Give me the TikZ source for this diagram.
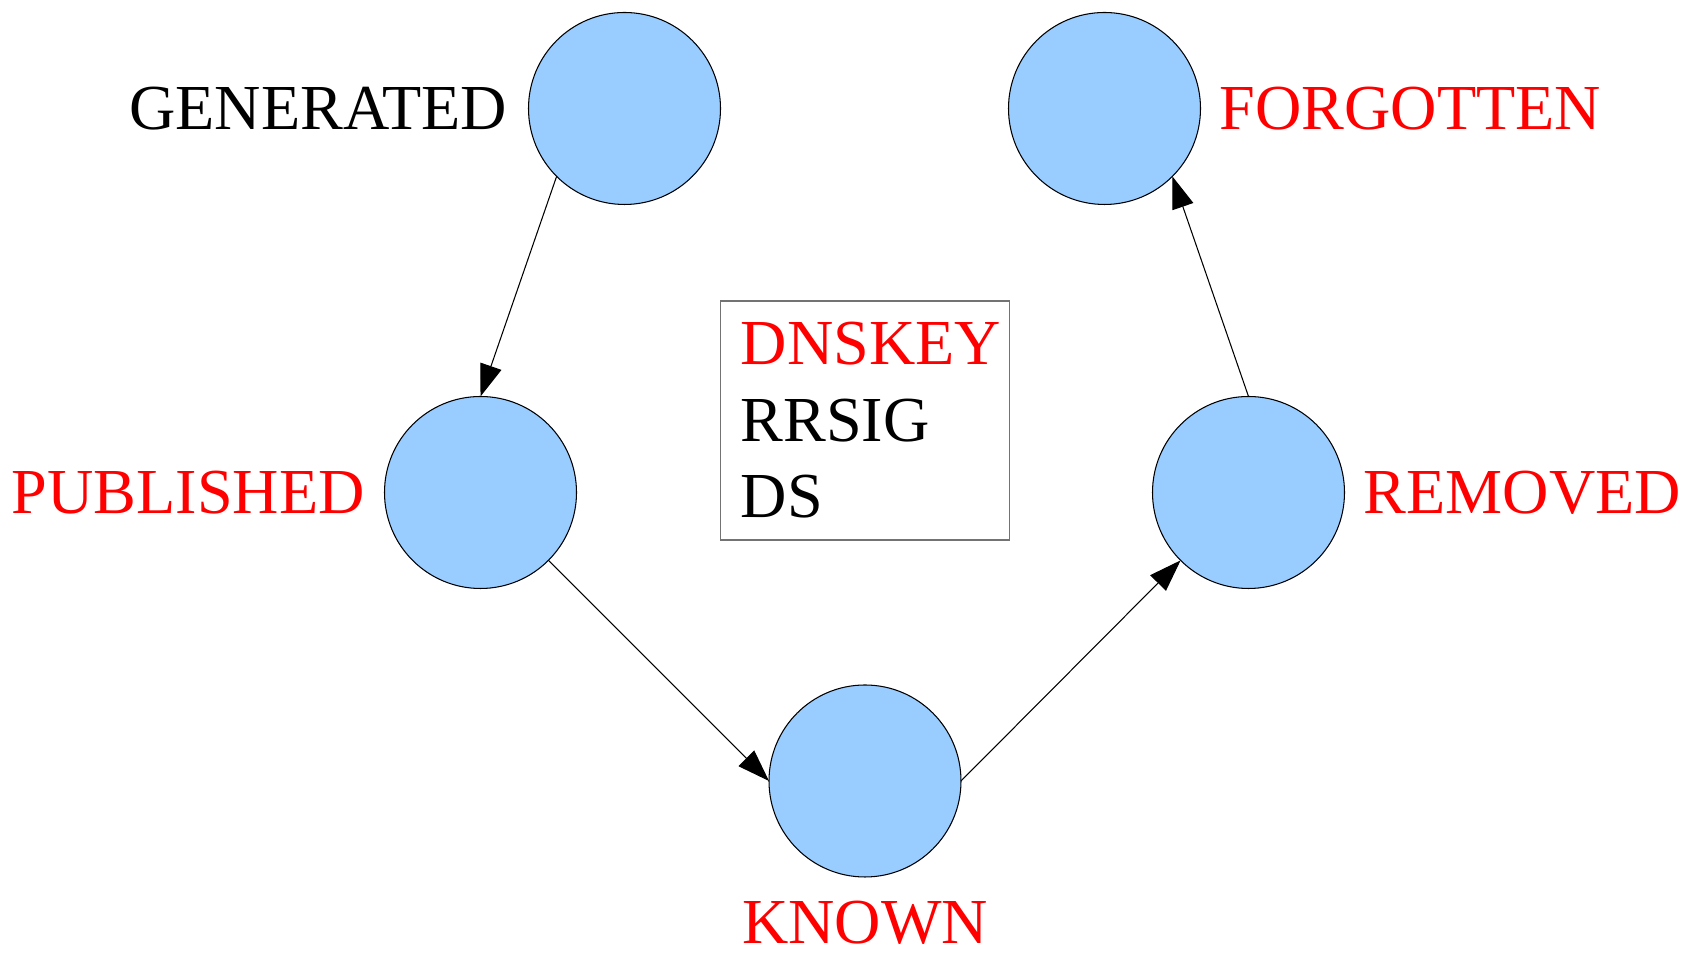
\documentclass[tikz,border=0pt]{standalone}
\usepackage{fontspec}
\setmainfont{Liberation Serif}
\usepackage{xcolor}
\definecolor{stateblue}{HTML}{99CCFF}
\definecolor{hot}{HTML}{FF0000}
\usepackage{tikz}
\usetikzlibrary{arrows.meta, positioning}

\begin{document}
\begin{tikzpicture}[
  state/.style={circle, draw=black, fill=stateblue, line width=0.6pt,
    minimum size=3.84cm, inner sep=0pt, outer sep=0pt},
  tag/.style={text=#1, font=\fontsize{36.5pt}{43.5pt}\selectfont, inner sep=0pt},
  >={Triangle[length=0.64cm, width=0.44cm]}
]
  \useasboundingbox (0,0) rectangle (33.62,19.06);

  % States
  \node[state] (gen) at (12.49,16.89) {};
  \node[state] (forg) at (22.09,16.89) {};
  \node[state] (pub) at (9.61,9.21) {};
  \node[state] (rem) at (24.97,9.21) {};
  \node[state] (known) at (17.30,3.44) {};

  % Labels
  \node[tag=black, left=0.42cm of gen] (genlbl) {GENERATED};
  \node[tag=hot, right=0.38cm of forg] (forglbl) {FORGOTTEN};
  \node[tag=hot, left=0.39cm of pub] (publbl) {PUBLISHED};
  \node[tag=hot, right=0.38cm of rem] (remlbl) {REMOVED};
  \node[tag=hot, below=0.48cm of known] (knownlbl) {KNOWN};

  % Legend
  \node[draw=black!55, line width=0.6pt, minimum width=5.77cm, minimum height=4.78cm,
    text width=4.97cm, inner xsep=0.4cm, inner ysep=0pt, align=left,
    font=\fontsize{36.5pt}{43.5pt}\selectfont] (legend) at (17.30,10.65)
    {\textcolor{hot}{DNSKEY}\\RRSIG\\DS};

  % Transitions
  \draw[->, line width=0.6pt] (gen.south west) -- (pub.north);
  \draw[->, line width=0.6pt] (pub.south east) -- (known.west);
  \draw[->, line width=0.6pt] (known.east) -- (rem.south west);
  \draw[->, line width=0.6pt] (rem.north) -- (forg.south east);
\end{tikzpicture}
\end{document}
